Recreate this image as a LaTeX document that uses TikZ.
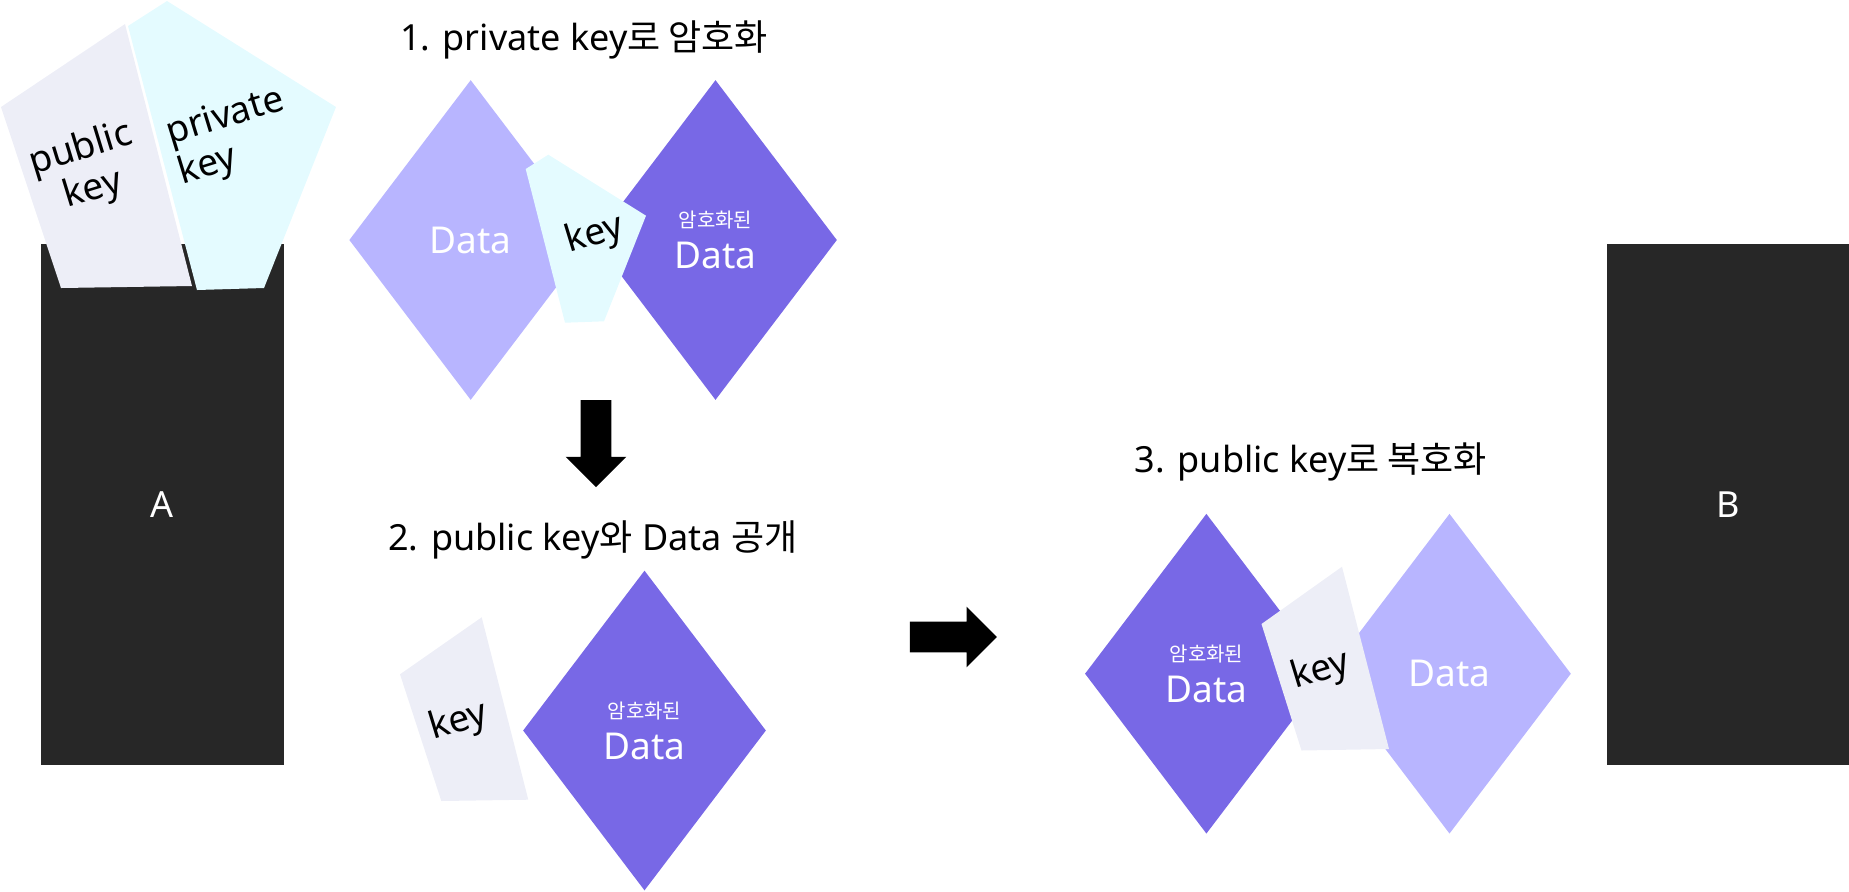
\documentclass[tikz,border=0pt]{standalone}
\usepackage{fontspec}
\setmainfont{Noto Sans}
\newfontfamily\krfont{Noto Sans CJK KR}
\usetikzlibrary{positioning,shapes.geometric,shapes.arrows}
\definecolor{keyLightBlue}{HTML}{E4FBFF}
\definecolor{keyLightGrey}{HTML}{EDEEF7}
\definecolor{dataLight}{HTML}{B8B5FF}
\definecolor{dataDark}{HTML}{7868E6}
\definecolor{partyBlack}{HTML}{272727}
\newcommand{\ciphertext}{{\krfont\fontsize{10pt}{12pt}\selectfont 암호화된}\\[-1.5pt]Data}

\begin{document}
\begin{tikzpicture}[
  x=0.5pt,y=-0.5pt,
  party/.style={
    fill=partyBlack,
    text=white,
    minimum width=121.5pt,
    minimum height=260.5pt,
    inner sep=0pt,
    font=\fontsize{18pt}{22pt}\selectfont
  },
  databox/.style={
    diamond,
    minimum width=121.5pt,
    minimum height=160pt,
    inner sep=0pt,
    align=center,
    text=white,
    font=\fontsize{18.5pt}{22pt}\selectfont
  },
  plain/.style={databox,fill=dataLight},
  cipher/.style={databox,fill=dataDark},
  keylabel/.style={rotate=17,inner sep=0pt,font=\fontsize{18.5pt}{21pt}\selectfont},
  stage/.style={inner sep=0pt,font=\fontsize{18pt}{22pt}\selectfont},
  blockarrow/.style={
    single arrow,
    fill=black,
    inner xsep=0pt,
    inner ysep=7.5pt,
    minimum height=43.5pt,
    single arrow head extend=7.5pt
  }
]
  \useasboundingbox (0,0) rectangle (1849,891);

  \node[party] (partyA) at (162.5,504.5) {A};
  \node[party] (partyB) at (1728,504.5) {B};

  \fill[keyLightGrey] (1,107) -- (125,24) -- (192,286) -- (61,288) -- cycle;
  \fill[keyLightBlue] (128,26) -- (167,1) -- (336,107) -- (264,288) -- (197,290) -- cycle;
  \node[keylabel,align=center] (publicKey) at (87,170) {public\\key};
  \node[keylabel,align=left] (privateKey) at (232,138) {private\\key};

  % step 1
  \node[stage] (stageOne) at (584,40) {1. private key{\krfont 로 암호화}};
  \node[plain] (plainOne) at (470.7,240) {Data};
  \node[cipher,right=0.5pt of plainOne] (cipherOne) {\ciphertext};
  \fill[keyLightBlue] (525.7,169) -- (548.3,154.7) -- (646,215.7) -- (604,321.3) -- (565,322.7) -- cycle;
  \node[keylabel] (keyOne) at (595,235) {key};
  \node[blockarrow,rotate=-90] (arrowDown) at (596,436) {};

  % step 2
  \node[stage] (stageTwo) at (593,540) {2. public key{\krfont 와} Data {\krfont 공개}};
  \fill[keyLightGrey] (400,674.3) -- (481.7,617.3) -- (528.3,799.7) -- (441.3,801) -- cycle;
  \node[keylabel] (keyTwo) at (459,722) {key};
  \node[cipher] (cipherTwo) at (644.5,730.5) {\ciphertext};
  \node[blockarrow] (arrowRight) at (945.7,637) {};

  % step 3
  \node[stage] (stageThree) at (1311,462) {3. public key{\krfont 로 복호화}};
  \node[cipher] (cipherThree) at (1206.4,673.7) {\ciphertext};
  \node[plain] (plainThree) at (1449.5,673.7) {Data};
  \fill[keyLightGrey] (1261.5,624) -- (1342,566.7) -- (1389,749) -- (1301.5,750.5) -- cycle;
  \node[keylabel] (keyThree) at (1320.5,671) {key};
\end{tikzpicture}
\end{document}
